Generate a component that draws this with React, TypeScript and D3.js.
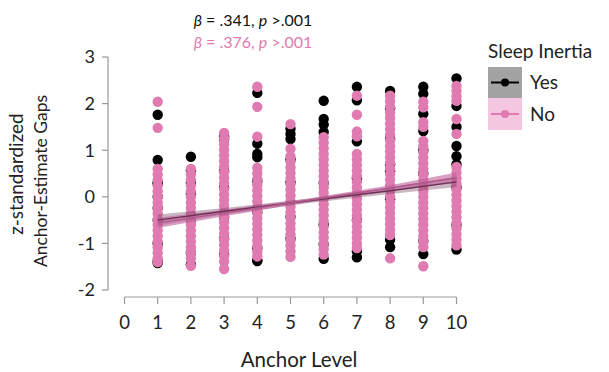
import React from "react";
import * as d3 from "d3";

const anchorLevels = [1, 2, 3, 4, 5, 6, 7, 8, 9, 10];
const xTicks = [0, 1, 2, 3, 4, 5, 6, 7, 8, 9, 10];
const yTicks = [-2, -1, 0, 1, 2, 3];

// Sleep inertia: Yes (black)
const yesValues: number[][] = [
  [1.76, 0.79, 0.3, 0.28, -0.24, 0.0, -0.5, -1.0, -1.38, -1.42],
  [0.86, 0.57, 0.3, 0.06, -0.5, -1.2, -1.45],
  [1.3, 1.24, 0.55, 0.2, -0.44, -0.9, -1.24],
  [2.23, 1.14, 0.92, 0.85, 0.34, -0.33, -1.1, -1.36, -1.38],
  [1.46, 1.35, 1.24, 0.8, 0.31, -0.43, -0.9],
  [2.06, 1.67, 1.55, 1.39, 0.3, -0.6, -1.02, -1.33],
  [2.36, 2.07, 1.19, 0.4, -0.5, -1.17, -1.3],
  [2.27, 1.9, 1.24, 0.7, 0.55, -0.05, -0.92, -1.08],
  [2.36, 2.21, 1.78, 1.41, 1.0, 0.5, -0.95, -1.23],
  [2.54, 1.95, 1.5, 1.09, 0.87, 0.7, 0.2, -0.6, -1.13],
];

// Sleep inertia: No (pink)
const noValues: number[][] = [
  [2.04, 1.48, 0.6, 0.48, 0.36, 0.24, 0.12, 0.0, -0.12, -0.24, -0.36, -0.48, -0.6, -0.72, -0.84, -0.96, -1.08, -1.2, -1.32, -1.4],
  [0.6, 0.48, 0.36, 0.24, 0.12, 0.0, -0.12, -0.24, -0.36, -0.48, -0.6, -0.72, -0.84, -0.96, -1.08, -1.2, -1.32, -1.48],
  [1.37, 1.25, 1.13, 1.01, 0.89, 0.77, 0.65, 0.53, 0.41, 0.29, 0.17, 0.05, -0.07, -0.19, -0.31, -0.43, -0.55, -0.67, -0.79, -0.91, -1.03, -1.15, -1.27, -1.39, -1.55],
  [2.36, 1.93, 1.29, 0.62, 0.5, 0.38, 0.26, 0.14, 0.02, -0.1, -0.22, -0.34, -0.46, -0.58, -0.7, -0.82, -0.94, -1.06, -1.18, -1.28],
  [1.56, 1.03, 0.87, 0.75, 0.63, 0.51, 0.39, 0.27, 0.15, 0.03, -0.09, -0.21, -0.33, -0.45, -0.57, -0.69, -0.81, -0.93, -1.05, -1.17, -1.29],
  [1.28, 1.16, 1.04, 0.92, 0.8, 0.68, 0.56, 0.44, 0.32, 0.2, 0.08, -0.04, -0.16, -0.28, -0.4, -0.52, -0.64, -0.76, -0.88, -1.0, -1.12, -1.24],
  [2.17, 1.76, 1.4, 1.3, 0.92, 0.8, 0.68, 0.56, 0.44, 0.32, 0.2, 0.08, -0.04, -0.16, -0.28, -0.4, -0.52, -0.64, -0.76, -0.88, -1.0, -1.1],
  [2.17, 2.05, 1.93, 1.81, 1.69, 1.57, 1.45, 1.33, 1.21, 1.09, 0.97, 0.85, 0.73, 0.61, 0.49, 0.37, 0.25, 0.13, 0.01, -0.11, -0.23, -0.35, -0.47, -0.59, -0.71, -0.82, -1.32],
  [2.04, 1.92, 1.6, 1.5, 1.2, 1.08, 0.96, 0.84, 0.72, 0.6, 0.48, 0.36, 0.24, 0.12, 0.0, -0.12, -0.24, -0.36, -0.48, -0.6, -0.72, -0.84, -0.96, -1.08, -1.49],
  [2.38, 2.27, 2.16, 2.06, 1.67, 1.35, 0.64, 0.52, 0.4, 0.28, 0.16, 0.04, -0.08, -0.2, -0.32, -0.44, -0.56, -0.68, -0.8, -0.92, -1.04],
];

// Regression fits with confidence bands
const fitX = [1, 3, 5.5, 8, 10];
const yesFit = [-0.5, -0.31, -0.09, 0.13, 0.32];
const yesLower = [-0.62, -0.38, -0.14, 0.06, 0.21];
const yesUpper = [-0.38, -0.24, -0.04, 0.2, 0.43];
const noFit = [-0.56, -0.35, -0.08, 0.19, 0.41];
const noLower = [-0.67, -0.42, -0.12, 0.13, 0.3];
const noUpper = [-0.45, -0.28, -0.04, 0.25, 0.52];

const PINK = "#df7bb0";
const FONT = "Lato, 'Open Sans', sans-serif";

export default function App() {
  const x = d3.scaleLinear().domain([0, 10]).range([124.5, 456.5]);
  const y = d3.scaleLinear().domain([-2, 3]).range([290, 57]);

  const area = (lo: number[], hi: number[]) =>
    d3
      .area<number>()
      .x((d) => x(d))
      .y0((_, i) => y(lo[i]))
      .y1((_, i) => y(hi[i]))(fitX) as string;
  const line = (v: number[]) =>
    d3
      .line<number>()
      .x((d) => x(d))
      .y((_, i) => y(v[i]))(fitX) as string;

  return (
    <svg width={609} height={372} style={{ position: "absolute", left: 0, top: 0, background: "#fff" }}>
      <g fontFamily={FONT}>
        {/* title */}
        <text x={253} y={26} textAnchor="middle" fontSize={16} fill="#111">
          <tspan fontStyle="italic">β</tspan> = .341, <tspan fontStyle="italic">p</tspan> &gt;.001
        </text>
        <text x={253} y={48} textAnchor="middle" fontSize={16} fill={PINK}>
          <tspan fontStyle="italic">β</tspan> =  .376, <tspan fontStyle="italic">p</tspan> &gt;.001
        </text>

        {/* y axis */}
        <line x1={108} x2={108} y1={y(3)} y2={y(-2)} stroke="#999" strokeWidth={1.2} />
        {yTicks.map((t) => (
          <g key={t}>
            <line x1={102} x2={108} y1={y(t)} y2={y(t)} stroke="#999" strokeWidth={1.2} />
            <text x={95} y={y(t)} dy="0.36em" textAnchor="end" fontSize={18} fill="#222">
              {t < 0 ? "-" + Math.abs(t) : t}
            </text>
          </g>
        ))}
        <text transform="translate(23,174) rotate(-90)" textAnchor="middle" fontSize={19} fill="#222">
          z-standardized
        </text>
        <text transform="translate(47,181) rotate(-90)" textAnchor="middle" fontSize={17.5} fill="#222">
          Anchor-Estimate Gaps
        </text>

        {/* x axis */}
        <line x1={x(0)} x2={x(10)} y1={297} y2={297} stroke="#999" strokeWidth={1.2} />
        {xTicks.map((t) => (
          <g key={t}>
            <line x1={x(t)} x2={x(t)} y1={297} y2={304} stroke="#999" strokeWidth={1.2} />
            <text x={x(t)} y={329} textAnchor="middle" fontSize={18.5} fill="#222">
              {t}
            </text>
          </g>
        ))}
        <text x={299} y={367} textAnchor="middle" fontSize={20.5} fill="#222">
          Anchor Level
        </text>

        {/* points */}
        {anchorLevels.map((a, i) =>
          yesValues[i].map((v, j) => (
            <circle key={`y${a}-${j}`} cx={x(a)} cy={y(v)} r={5.2} fill="#000" />
          ))
        )}
        {anchorLevels.map((a, i) =>
          noValues[i].map((v, j) => (
            <circle key={`n${a}-${j}`} cx={x(a)} cy={y(v)} r={5.2} fill={PINK} />
          ))
        )}

        {/* regression bands and lines */}
        <path d={area(yesLower, yesUpper)} fill="#6a3050" fillOpacity={0.35} />
        <path d={area(noLower, noUpper)} fill="#c0609a" fillOpacity={0.6} />
        <path d={line(yesFit)} fill="none" stroke="#6e2f55" strokeWidth={1.4} />
        <path d={line(noFit)} fill="none" stroke="#b0588a" strokeWidth={1.4} />

        {/* legend */}
        <text x={488} y={58} fontSize={19} fill="#222">
          Sleep Inertia
        </text>
        <rect x={488} y={67} width={34} height={31} fill="#a3a3a3" />
        <rect x={488} y={98} width={34} height={32} fill="#f5c6df" />
        <line x1={491} x2={519} y1={82.5} y2={82.5} stroke="#000" strokeWidth={2} />
        <circle cx={505} cy={82.5} r={4} fill="#000" />
        <line x1={491} x2={519} y1={114} y2={114} stroke={PINK} strokeWidth={2} />
        <circle cx={505} cy={114} r={4} fill={PINK} />
        <text x={530} y={89} fontSize={19} fill="#222">
          Yes
        </text>
        <text x={530} y={121} fontSize={19} fill="#222">
          No
        </text>
      </g>
    </svg>
  );
}
